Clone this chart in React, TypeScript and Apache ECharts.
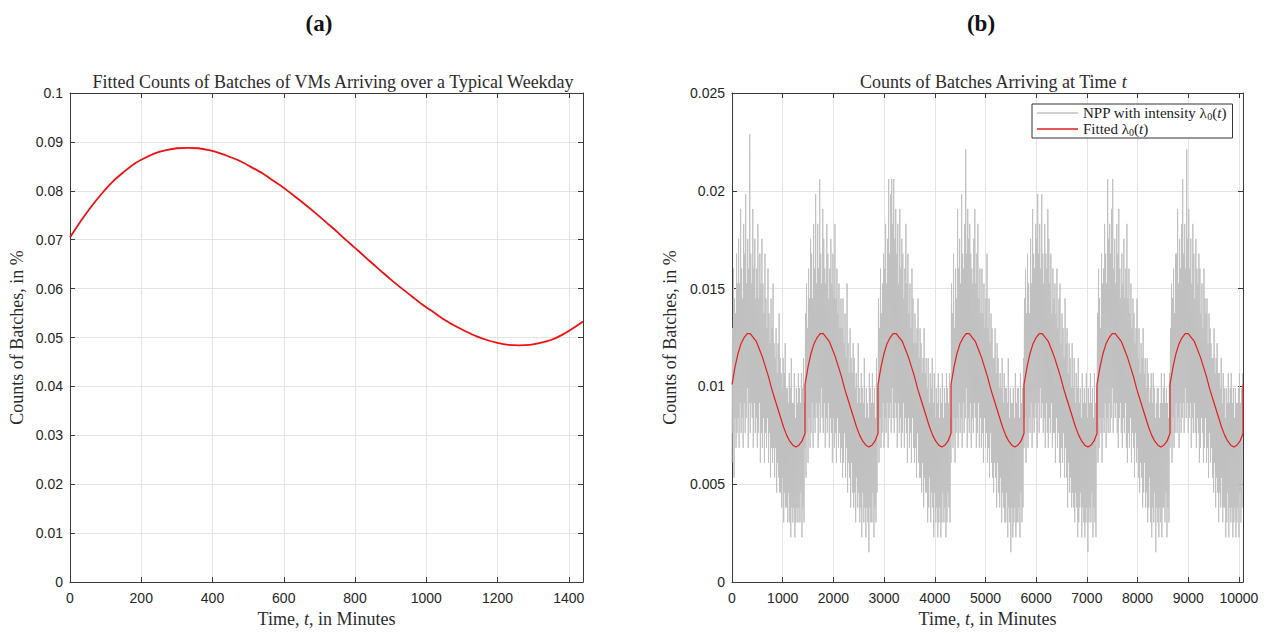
import React, { useEffect, useRef } from "react";
import * as echarts from "echarts";

// ---------- data ----------
// panel (a): fitted counts over a typical weekday (in %), every 30 minutes
const WEEKDAY_T = [
  0, 30, 60, 90, 120, 150, 180, 210, 240, 270, 300, 330, 360, 390, 420, 450, 480, 510, 540, 570, 600, 630, 660, 690, 720,
  750, 780, 810, 840, 870, 900, 930, 960, 990, 1020, 1050, 1080, 1110, 1140, 1170, 1200, 1230, 1260, 1290, 1320, 1350, 1380, 1410, 1440,
];
const WEEKDAY_FIT = [
  0.0705, 0.0738, 0.0768, 0.0795, 0.0819, 0.0838, 0.0855, 0.0867, 0.0877, 0.0883, 0.0887, 0.0888, 0.0887, 0.0883, 0.0877,
  0.0869, 0.086, 0.0848, 0.0836, 0.0821, 0.0806, 0.0789, 0.0772, 0.0754, 0.0735, 0.0716, 0.0696, 0.0677, 0.0657, 0.0638,
  0.0619, 0.0601, 0.0584, 0.0567, 0.0552, 0.0537, 0.0524, 0.0513, 0.0503, 0.0495, 0.0489, 0.0485, 0.0484, 0.0485, 0.0489,
  0.0495, 0.0505, 0.0518, 0.0533,
];
// panel (b): fitted lambda0(t) for one day (in %), every 60 minutes
const FIT_T = [0, 60, 120, 180, 240, 300, 360, 420, 480, 540, 600, 660, 720, 780, 840, 900, 960, 1020, 1080, 1140, 1200, 1260, 1320, 1380, 1440];
const LAMBDA0_FIT = [0.0101, 0.011, 0.0117, 0.0122, 0.0125, 0.0127, 0.0127, 0.0125, 0.0123, 0.0119, 0.0115, 0.011, 0.0105, 0.0099, 0.0094, 0.0089, 0.0084, 0.0079, 0.0075, 0.0072, 0.007, 0.0069, 0.007, 0.0072, 0.0076];

const DAYS = 7;
const MINUTES_PER_DAY = 1440;
const NPP_STEP = 10; // minutes between samples
const BATCH_SHARE = 0.000763; // % of all batches represented by one batch

// NPP sample counts (batches per sample), one array per day
const NPP_DAY1 = [
  8, 17, 10, 21, 7, 19, 11, 18, 9, 22, 10, 20,
  11, 23, 9, 20, 12, 25, 10, 21, 11, 19, 9, 24,
  12, 22, 10, 26, 11, 20, 13, 23, 9, 21, 12, 30,
  10, 22, 12, 20, 11, 25, 9, 21, 12, 23, 10, 19,
  11, 21, 9, 24, 10, 19, 12, 22, 8, 20, 10, 23,
  9, 20, 11, 18, 8, 22, 10, 19, 9, 17, 11, 21,
  8, 18, 10, 16, 7, 19, 9, 17, 8, 20, 9, 16,
  7, 15, 9, 17, 6, 14, 8, 16, 7, 18, 6, 15,
  6, 14, 5, 13, 7, 15, 4, 14, 6, 16, 5, 13,
  5, 13, 4, 12, 6, 14, 4, 13, 3, 15, 5, 12,
  4, 12, 5, 14, 3, 11, 4, 13, 5, 12, 4, 14,
  5, 13, 4, 12, 6, 14, 3, 13, 5, 15, 4, 12,
];
const NPP_DAY2 = [
  9, 18, 7, 20, 10, 17, 8, 21, 11, 19, 9, 23,
  10, 22, 12, 19, 9, 24, 11, 21, 10, 26, 12, 20,
  11, 24, 9, 21, 12, 27, 10, 22, 13, 20, 11, 25,
  10, 23, 12, 21, 9, 20, 11, 24, 10, 22, 12, 19,
  9, 21, 11, 23, 10, 20, 8, 22, 11, 19, 9, 24,
  10, 19, 8, 21, 11, 18, 9, 20, 10, 17, 8, 19,
  9, 17, 7, 19, 8, 16, 10, 18, 7, 15, 9, 20,
  6, 16, 8, 14, 7, 17, 5, 15, 8, 14, 6, 16,
  5, 15, 6, 13, 4, 14, 7, 12, 5, 16, 6, 13,
  4, 12, 5, 14, 3, 13, 6, 12, 4, 15, 5, 11,
  3, 13, 5, 12, 4, 11, 2, 14, 5, 13, 4, 12,
  4, 14, 6, 12, 3, 13, 5, 11, 4, 15, 6, 13,
];
const NPP_DAY3 = [
  10, 19, 8, 17, 11, 21, 9, 18, 10, 20, 12, 22,
  9, 21, 11, 24, 10, 20, 12, 23, 9, 27, 11, 22,
  12, 26, 10, 27, 13, 24, 11, 27, 10, 23, 12, 25,
  11, 22, 9, 24, 12, 20, 10, 25, 11, 21, 9, 23,
  10, 22, 12, 19, 9, 21, 11, 24, 10, 20, 8, 22,
  11, 18, 9, 20, 10, 17, 8, 21, 11, 19, 9, 16,
  8, 18, 9, 16, 7, 17, 10, 19, 8, 15, 7, 17,
  7, 16, 6, 14, 8, 15, 5, 17, 7, 14, 6, 15,
  6, 13, 4, 15, 5, 12, 7, 14, 4, 13, 6, 15,
  5, 12, 3, 14, 6, 11, 4, 13, 5, 12, 3, 14,
  4, 11, 5, 13, 3, 12, 4, 14, 6, 11, 4, 13,
  5, 12, 3, 14, 4, 13, 6, 12, 5, 14, 4, 11,
];
const NPP_DAY4 = [
  8, 20, 10, 18, 9, 22, 11, 17, 8, 21, 10, 19,
  11, 25, 9, 21, 12, 23, 10, 20, 11, 26, 9, 22,
  12, 21, 10, 24, 11, 29, 13, 22, 9, 25, 11, 23,
  10, 24, 12, 22, 9, 21, 11, 20, 10, 23, 12, 25,
  11, 20, 9, 22, 10, 24, 12, 19, 9, 21, 11, 18,
  9, 21, 10, 18, 8, 20, 11, 17, 9, 19, 10, 22,
  8, 17, 9, 19, 7, 16, 10, 18, 8, 17, 7, 15,
  6, 15, 8, 17, 7, 14, 5, 16, 8, 15, 6, 13,
  5, 14, 7, 13, 4, 15, 6, 12, 5, 14, 4, 13,
  4, 13, 6, 12, 3, 15, 5, 11, 4, 13, 2, 12,
  5, 12, 3, 13, 4, 11, 5, 14, 3, 12, 4, 13,
  4, 13, 5, 11, 3, 14, 6, 12, 4, 13, 5, 15,
];
const NPP_DAY5 = [
  9, 19, 11, 21, 8, 18, 10, 22, 9, 20, 11, 18,
  10, 23, 12, 20, 9, 25, 11, 22, 10, 21, 12, 24,
  11, 23, 9, 26, 12, 22, 10, 24, 13, 21, 11, 26,
  12, 22, 10, 20, 11, 24, 9, 22, 12, 21, 10, 25,
  9, 23, 11, 20, 10, 22, 12, 18, 9, 21, 10, 19,
  10, 20, 8, 18, 11, 21, 9, 17, 10, 19, 8, 20,
  7, 16, 9, 18, 8, 17, 10, 15, 7, 19, 9, 16,
  7, 17, 5, 14, 8, 16, 6, 15, 7, 13, 5, 16,
  6, 13, 5, 15, 4, 12, 6, 14, 5, 13, 3, 15,
  4, 12, 5, 13, 6, 11, 3, 14, 5, 12, 4, 13,
  3, 12, 4, 14, 5, 11, 2, 13, 4, 12, 5, 14,
  4, 12, 6, 13, 3, 11, 5, 14, 4, 12, 3, 13,
];
const NPP_DAY6 = [
  10, 18, 8, 21, 9, 19, 11, 17, 10, 22, 8, 20,
  11, 21, 10, 24, 12, 22, 9, 20, 11, 27, 10, 23,
  12, 24, 10, 22, 11, 25, 13, 27, 10, 21, 12, 23,
  11, 20, 12, 24, 10, 22, 9, 25, 11, 21, 12, 19,
  10, 22, 9, 20, 11, 23, 10, 19, 12, 21, 9, 24,
  8, 19, 10, 21, 9, 18, 11, 20, 8, 17, 10, 19,
  9, 18, 7, 16, 10, 17, 8, 19, 9, 15, 7, 17,
  6, 14, 8, 16, 7, 15, 5, 17, 6, 14, 8, 15,
  5, 13, 6, 15, 4, 14, 5, 12, 7, 13, 4, 14,
  3, 12, 5, 14, 4, 13, 6, 11, 2, 12, 5, 13,
  4, 13, 3, 11, 5, 12, 4, 14, 3, 12, 5, 13,
  5, 14, 4, 12, 6, 13, 3, 12, 5, 11, 4, 14,
];
const NPP_DAY7 = [
  9, 17, 10, 20, 8, 19, 11, 21, 9, 18, 10, 22,
  12, 22, 10, 25, 11, 20, 9, 23, 12, 21, 10, 24,
  11, 27, 12, 22, 10, 24, 13, 21, 11, 29, 12, 23,
  10, 25, 11, 21, 12, 23, 9, 20, 11, 24, 10, 22,
  12, 19, 10, 23, 9, 21, 11, 20, 10, 22, 8, 21,
  9, 18, 11, 20, 10, 17, 8, 21, 9, 19, 11, 18,
  8, 19, 9, 16, 7, 18, 10, 17, 8, 16, 9, 15,
  7, 15, 6, 17, 8, 14, 5, 15, 7, 16, 6, 14,
  4, 14, 6, 13, 5, 15, 7, 12, 4, 14, 5, 13,
  5, 11, 3, 13, 4, 12, 6, 14, 3, 12, 5, 13,
  4, 14, 5, 12, 3, 13, 4, 11, 5, 13, 3, 12,
  4, 12, 5, 13, 3, 14, 6, 12, 4, 13, 5, 14,
];
const NPP_DAYS = [NPP_DAY1, NPP_DAY2, NPP_DAY3, NPP_DAY4, NPP_DAY5, NPP_DAY6, NPP_DAY7];

// axes
const A_X_MAX = 1440;
const A_X_STEP = 200;
const A_Y_MAX = 0.1;
const A_Y_STEP = 0.01;
const B_X_MAX = DAYS * MINUTES_PER_DAY;
const B_X_STEP = 1000;
const B_Y_MAX = 0.025;
const B_Y_STEP = 0.005;

const NPP_NAME = "NPP with intensity λ0(t)";
const FIT_NAME = "Fitted λ0(t)";

// ---------- styling ----------
const SERIF = "'Liberation Serif', 'DejaVu Serif', serif";
const SANS = "'Liberation Sans', Arial, sans-serif";
const AXIS_COLOR = "#3a3a3a";
const LABEL_COLOR = "#262626";
const GRID_COLOR = "#e4e4e4";
const TEXT_COLOR = "#2b2b2b";

const GRID_A = { left: 70, right: 688, top: 93, bottom: 47 };
const GRID_B = { left: 732, right: 28, top: 93, bottom: 47 };

function buildOption() {
  const weekdayData = WEEKDAY_T.map((t, i) => [t, WEEKDAY_FIT[i]]);

  const fitWeek: number[][] = [];
  for (let d = 0; d < DAYS; d++) {
    FIT_T.forEach((t, i) => fitWeek.push([d * MINUTES_PER_DAY + t, LAMBDA0_FIT[i]]));
  }
  fitWeek.push([B_X_MAX, LAMBDA0_FIT[0]]);

  const nppData = NPP_DAYS.flatMap((day, d) =>
    day.map((k, i) => [d * MINUTES_PER_DAY + i * NPP_STEP, +(k * BATCH_SHARE).toFixed(6)])
  );

  const axisLine = { show: true, onZero: false, lineStyle: { color: AXIS_COLOR, width: 1 } };
  const axisTick = { show: true, inside: true, length: 5, lineStyle: { color: AXIS_COLOR, width: 1 } };
  const splitLine = { show: true, lineStyle: { color: GRID_COLOR, width: 1 } };
  const tickLabel = { color: LABEL_COLOR, fontFamily: SANS, fontSize: 14 };
  const serifRich = {
    n: { fontFamily: SERIF, fontSize: 18, color: TEXT_COLOR, fontWeight: "normal" },
    i: { fontFamily: SERIF, fontSize: 18, color: TEXT_COLOR, fontStyle: "italic", fontWeight: "normal" },
  };

  const xName = "{n|Time, }{i|t}{n|, in Minutes}";

  const mkX = (grid: number, max: number, step: number, bottom: boolean) => ({
    type: "value",
    gridIndex: grid,
    min: 0,
    max,
    interval: step,
    position: bottom ? "bottom" : "top",
    axisLine,
    axisTick,
    axisLabel: bottom
      ? { ...tickLabel, margin: 9, showMaxLabel: false, formatter: (v: number) => String(v) }
      : { show: false },
    splitLine: bottom ? splitLine : { show: false },
    name: bottom ? xName : undefined,
    nameLocation: "middle",
    nameGap: 26,
    nameTextStyle: { rich: serifRich },
  });

  const mkY = (grid: number, max: number, step: number, left: boolean, gap: number) => ({
    type: "value",
    gridIndex: grid,
    min: 0,
    max,
    interval: step,
    position: left ? "left" : "right",
    axisLine,
    axisTick,
    axisLabel: left ? { ...tickLabel, margin: 7 } : { show: false },
    splitLine: left ? splitLine : { show: false },
    name: left ? "Counts of Batches, in %" : undefined,
    nameLocation: "middle",
    nameGap: gap,
    nameTextStyle: { fontFamily: SERIF, fontSize: 18, color: TEXT_COLOR },
  });

  const legendRich = {
    r: { fontFamily: SERIF, fontSize: 15, color: "#222", lineHeight: 17 },
    i: { fontFamily: SERIF, fontSize: 15, color: "#222", fontStyle: "italic", lineHeight: 17 },
    s: { fontFamily: SERIF, fontSize: 10, color: "#222", lineHeight: 11, padding: [6, 0, 0, 0] },
  };

  return {
    animation: false,
    backgroundColor: "#ffffff",
    title: [
      {
        text: "(a)",
        left: 314,
        top: 7,
        textAlign: "center",
        textStyle: { fontFamily: SERIF, fontSize: 23, fontWeight: "bold", color: "#111" },
      },
      {
        text: "(b)",
        left: 976,
        top: 7,
        textAlign: "center",
        textStyle: { fontFamily: SERIF, fontSize: 23, fontWeight: "bold", color: "#111" },
      },
      {
        text: "Fitted Counts of Batches of VMs Arriving over a Typical Weekday",
        left: 328,
        top: 68,
        textAlign: "center",
        textStyle: { fontFamily: SERIF, fontSize: 18, fontWeight: "normal", color: TEXT_COLOR },
      },
      {
        text: "{n|Counts of Batches Arriving at Time }{i|t}",
        left: 988,
        top: 68,
        textAlign: "center",
        textStyle: { fontWeight: "normal", rich: serifRich },
      },
    ],
    legend: {
      data: [NPP_NAME, FIT_NAME],
      orient: "vertical",
      left: 1032,
      top: 104,
      padding: [1, 6, 1, 5],
      itemGap: 0,
      itemWidth: 41,
      itemHeight: 1.5,
      itemTextGap: 5,
      icon: "rect",
      backgroundColor: "#ffffff",
      borderColor: "#333",
      borderWidth: 1,
      borderRadius: 0,
      formatter: (name: string) =>
        name === NPP_NAME
          ? "{r|NPP with intensity λ}{s|0}{r|(}{i|t}{r|)}"
          : "{r|Fitted λ}{s|0}{r|(}{i|t}{r|)}",
      textStyle: { rich: legendRich },
    },
    grid: [
      { ...GRID_A, containLabel: false },
      { ...GRID_B, containLabel: false },
    ],
    xAxis: [
      mkX(0, A_X_MAX, A_X_STEP, true),
      mkX(0, A_X_MAX, A_X_STEP, false),
      mkX(1, B_X_MAX, B_X_STEP, true),
      mkX(1, B_X_MAX, B_X_STEP, false),
    ],
    yAxis: [
      mkY(0, A_Y_MAX, A_Y_STEP, true, 44),
      mkY(0, A_Y_MAX, A_Y_STEP, false, 0),
      mkY(1, B_Y_MAX, B_Y_STEP, true, 53),
      mkY(1, B_Y_MAX, B_Y_STEP, false, 0),
    ],
    series: [
      {
        name: "weekday",
        type: "line",
        xAxisIndex: 0,
        yAxisIndex: 0,
        data: weekdayData,
        smooth: 0.3,
        showSymbol: false,
        lineStyle: { color: "#ee1111", width: 1.8 },
        itemStyle: { color: "#ee1111" },
      },
      {
        name: NPP_NAME,
        type: "line",
        xAxisIndex: 2,
        yAxisIndex: 2,
        data: nppData,
        showSymbol: false,
        lineStyle: { color: "#c0c0c0", width: 1 },
        itemStyle: { color: "#c0c0c0" },
      },
      {
        name: FIT_NAME,
        type: "line",
        xAxisIndex: 2,
        yAxisIndex: 2,
        data: fitWeek,
        showSymbol: false,
        lineStyle: { color: "#e02020", width: 1.2 },
        itemStyle: { color: "#e02020" },
      },
    ],
  };
}

export default function App() {
  const ref = useRef<HTMLDivElement>(null);
  useEffect(() => {
    if (!ref.current) return;
    const chart = echarts.init(ref.current, null, { renderer: "svg" });
    chart.setOption(buildOption() as any);
    return () => chart.dispose();
  }, []);
  return (
    <div
      ref={ref}
      style={{ position: "absolute", left: 0, top: 0, width: 1271, height: 633, background: "#fff" }}
    />
  );
}
